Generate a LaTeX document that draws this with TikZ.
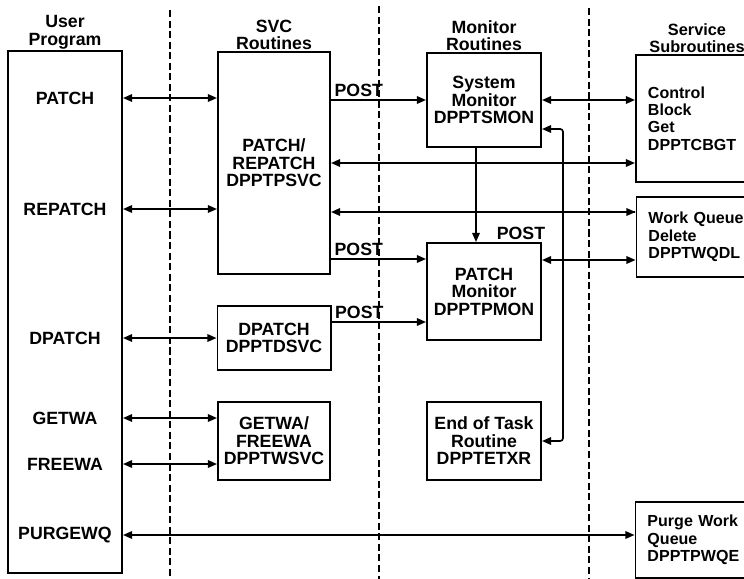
\documentclass[tikz,border=0pt]{standalone}
\usepackage{fontspec}
\setmainfont{Liberation Sans}
\usetikzlibrary{arrows.meta,positioning}

\begin{document}
\begin{tikzpicture}[
  x=0.025cm, y=-0.025cm,
  font=\bfseries\fontsize{12.6}{12.4}\selectfont,
  box/.style={rectangle, draw=black, line width=1.4pt, align=center, inner sep=2pt},
  sbox/.style={box, align=left, text width=2.6cm, inner xsep=0.3cm, font=\bfseries\fontsize{11.4}{12.4}\selectfont},
  hdr/.style={align=center, inner sep=0.5pt},
  lbl/.style={inner sep=2pt},
  arr/.style={-{Triangle[length=2.3mm,width=1.9mm]}, line width=1.2pt},
  dbl/.style={{Triangle[length=2.3mm,width=1.9mm]}-{Triangle[length=2.3mm,width=1.9mm]}, line width=1.2pt},
  divider/.style={line width=1.1pt, dash pattern=on 5pt off 2.5pt}
]
\useasboundingbox (0,0) rectangle (744,579);

% column dividers
\draw[divider] (170,10) -- (170,579);
\draw[divider] (379,6) -- (379,579);
\draw[divider] (589,8) -- (589,579);

% user program
\node[box, minimum width=2.85cm, minimum height=13.05cm] (user) at (65,312) {};
\node[hdr, above=0pt of user] {User\\Program};
\node[lbl] (patch) at (65,98) {PATCH};
\node[lbl] (repatch) at (65,209) {REPATCH};
\node[lbl] (dpatch) at (65,338) {DPATCH};
\node[lbl] (getwa) at (65,418) {GETWA};
\node[lbl] (freewa) at (65,464) {FREEWA};
\node[lbl] (purgewq) at (65,535) {PURGEWQ};

% svc routines
\node[box, minimum width=2.8cm, minimum height=5.55cm] (psvc) at (274,163) {PATCH/\\REPATCH\\DPPTPSVC};
\node[hdr, above=0pt of psvc] {SVC\\Routines};
\node[box, minimum width=2.825cm, minimum height=1.6cm] (dsvc) at (274,338) {DPATCH\\DPPTDSVC};
\node[box, minimum width=2.8cm, minimum height=1.95cm] (wsvc) at (274,441) {GETWA/\\FREEWA\\DPPTWSVC};

% monitor routines
\node[box, minimum width=2.85cm, minimum height=2.35cm] (smon) at (484,100) {System\\Monitor\\DPPTSMON};
\node[hdr, above=0pt of smon] {Monitor\\Routines};
\node[box, minimum width=2.85cm, minimum height=2.425cm] (pmon) at (484,291.5) {PATCH\\Monitor\\DPPTPMON};
\node[box, minimum width=2.85cm, minimum height=1.95cm] (etxr) at (484,441) {End of Task\\Routine\\DPPTETXR};
\node[lbl] (postp) at (521,233) {POST};

% service subroutines
\node[sbox, minimum height=3.175cm] (cbgt) at (700,118.5) {Control\\Block\\Get\\DPPTCBGT};
\node[hdr, font=\bfseries\fontsize{11.6}{12.4}\selectfont] at (697,38) {Service\\Subroutines};
\node[sbox, minimum height=2cm] (wqdl) at (700.5,237) {Work Queue\\Delete\\DPPTWQDL};
\node[sbox, minimum height=1.9cm] (pwqe) at (699.5,540) {Purge Work\\Queue\\DPPTPWQE};

% user program to svc
\draw[dbl] (patch -| user.east) -- (patch -| psvc.west);
\draw[dbl] (repatch -| user.east) -- (repatch -| psvc.west);
\draw[dbl] (dpatch -| user.east) -- (dpatch -| dsvc.west);
\draw[dbl] (getwa -| user.east) -- (getwa -| wsvc.west);
\draw[dbl] (freewa -| user.east) -- (freewa -| wsvc.west);
\draw[dbl] (purgewq -| user.east) -- (purgewq -| pwqe.west);

% svc to monitors
\draw[arr] (psvc.east |- smon.west) node[lbl, above right] {POST} -- (smon.west);
\draw[arr] (psvc.east |- 0,259) node[lbl, above right] {POST} -- (pmon.west |- 0,259);
\draw[arr] (dsvc.east |- 0,322) node[lbl, above right] {POST} -- (pmon.west |- 0,322);

% svc to service subroutines
\draw[dbl] (psvc.east) -- (psvc.east -| cbgt.west);
\draw[dbl] (psvc.east |- 0,212) -- (cbgt.west |- 0,212) -- (wqdl.west |- 0,212);

% monitors
\draw[dbl] (smon.east) -- (smon.east -| cbgt.west);
\draw[dbl] (pmon.east |- 0,260) -- (wqdl.west |- 0,260);
\draw[arr] (smon.south -| 476,0) -- (pmon.north -| 476,0);
\draw[dbl, rounded corners=2pt] (smon.east |- 0,129) -| (etxr.east -| 563,0) -- (etxr.east);
\end{tikzpicture}
\end{document}
